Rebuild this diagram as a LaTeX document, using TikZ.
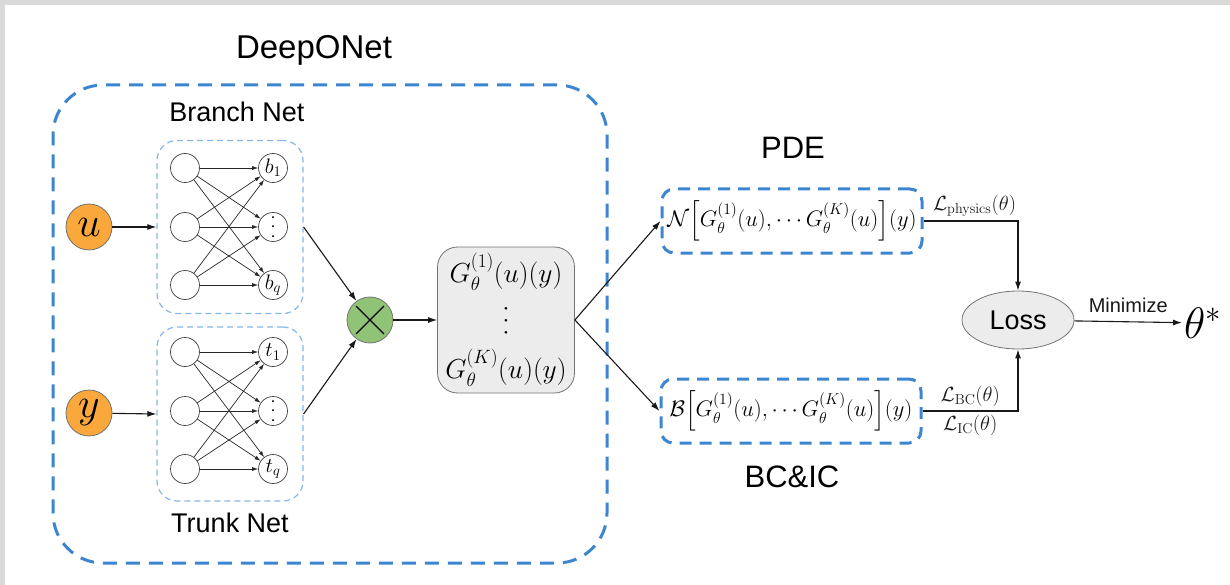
\RequirePackage{fix-cm}
\documentclass[tikz,border=0pt]{standalone}
\usepackage{amsmath, amssymb}
\usepackage[no-math]{fontspec}
\setmainfont{Liberation Sans}
\usetikzlibrary{arrows.meta, positioning, calc, shapes.geometric}

\definecolor{dnblue}{RGB}{61,133,209}
\definecolor{dnlight}{RGB}{133,183,232}
\definecolor{dnorange}{RGB}{250,168,60}
\definecolor{dngreen}{RGB}{143,196,119}
\definecolor{dnfill}{RGB}{236,236,236}
\definecolor{dnframe}{RGB}{217,217,217}

% 縦の点 (フォントに合わせて拡大)
\newcommand{\vdotsnet}{\rotatebox{90}{$\ldots$}}

\tikzset{
  neuron/.style={circle, draw=black!75, line width=0.7pt, minimum size=29pt, inner sep=0pt, font=\fontsize{21}{21}\selectfont},
  inp/.style={circle, draw=black!55, fill=dnorange, line width=0.8pt, minimum size=46pt, inner sep=0pt, font=\fontsize{42}{42}\selectfont},
  netbox/.style={draw=dnlight, line width=1.2pt, dash pattern=on 6pt off 4pt, rounded corners=20pt, minimum width=146pt},
  bigbox/.style={draw=dnblue, line width=3pt, dash pattern=on 14pt off 9pt, rounded corners=50pt},
  eqbox/.style={draw=dnblue, line width=3pt, dash pattern=on 12pt off 8pt, rounded corners=12pt, minimum width=260pt, minimum height=64pt, inner sep=0pt, font=\fontsize{22.5}{22.5}\selectfont},
  title/.style={font=\fontsize{31}{31}\selectfont},
  sub/.style={font=\fontsize{27}{27}\selectfont},
  edge/.style={-{Latex[length=6pt,width=4pt]}, line width=0.7pt, black!85},
  conn/.style={-{Latex[length=9pt,width=6pt]}, line width=1.1pt, black!90},
  loss/.style={font=\fontsize{20.5}{20.5}\selectfont, inner sep=4pt}
}

\begin{document}
\begin{tikzpicture}[x=1pt, y=-1pt]
\useasboundingbox (0,0) rectangle (1230,585);
% 枠
\fill[dnframe] (0,0) rectangle (1230,5);
\fill[dnframe] (0,0) rectangle (5,585);

% DeepONet
\node[bigbox, minimum width=554pt, minimum height=478pt] (deeponet) at (330,324) {};
\node[title, font=\fontsize{33}{33}\selectfont] (dlabel) at (314,50) {DeepONet};

% branch / trunk
\node[netbox, minimum height=173pt] (branch) at (230,227) {};
\node[netbox, minimum height=174pt] (trunk) at (230,414) {};
\node[sub] (blabel) at (237,112) {Branch Net};
\node[sub] (tlabel) at (230,523) {Trunk Net};

\foreach \net/\yc/\lab in {b/227/b, t/411/t} {
  \foreach \i/\dy in {1/-59, 2/0, 3/58} {
    \node[neuron] (\net l\i) at (185,\yc+\dy) {};
  }
  \node[neuron] (\net r1) at (273,\yc-59) {$\lab_1$};
  \node[neuron] (\net r2) at (273,\yc) {\vdotsnet};
  \node[neuron] (\net r3) at (273,\yc+58) {$\lab_q$};
  \foreach \i in {1,2,3}
    \foreach \j in {1,2,3}
      \draw[edge] (\net l\i) -- (\net r\j);
}

% 入力
\node[inp] (u) at (89,227) {$u$};
\node[inp] (y) at (89,413) {$y$};
\draw[conn] (u) -- (branch.west);
\draw[conn] (y) -- (trunk.west);

% 積
\node[circle, draw=black!55, line width=0.8pt, fill=dngreen, minimum size=46pt] (mul) at (370,320) {};
\draw[line width=1.2pt] ($(mul)+(-14,-14)$) -- ($(mul)+(14,14)$);
\draw[line width=1.2pt] ($(mul)+(-14,14)$) -- ($(mul)+(14,-14)$);
\draw[conn] (branch.east) -- (mul);
\draw[conn] (trunk.east) -- (mul);

% 出力
\node[draw=black!55, line width=0.8pt, fill=dnfill, rounded corners=20pt, minimum width=137pt, minimum height=146pt,
      align=center, font=\fontsize{27.5}{48}\selectfont] (G) at (506,320)
  {$G^{(1)}_\theta(u)(y)$\\\raisebox{-6pt}{\vdotsnet}\\$G^{(K)}_\theta(u)(y)$};
\draw[conn] (mul) -- (G);

% PDE, BC&IC
\node[eqbox] (pde) at (792,221) {$\mathcal{N}\Big[G^{(1)}_\theta(u),\cdots G^{(K)}_\theta(u)\Big](y)$};
\node[eqbox] (bc) at (791,411) {$\mathcal{B}\Big[G^{(1)}_\theta(u),\cdots G^{(K)}_\theta(u)\Big](y)$};
\node[title] (plabel) at (793,148) {PDE};
\node[title] (bclabel) at (792,477) {BC\&IC};
\draw[conn] (G.east) -- (pde.west);
\draw[conn] (G.east) -- (bc.west);

% 損失
\node[ellipse, draw=black!55, line width=0.8pt, fill=dnfill, minimum width=112pt, minimum height=58pt, inner sep=0pt,
      font=\fontsize{27}{27}\selectfont] (lossnode) at (1018,320) {Loss};
\draw[conn] (pde.east) -| (lossnode.north) node[loss, pos=0.27, above] {$\mathcal{L}_{\mathrm{physics}}(\theta)$};
\draw[conn] (bc.east) -| (lossnode.south)
  node[loss, pos=0.25, above] {$\mathcal{L}_{\mathrm{BC}}(\theta)$}
  node[loss, pos=0.25, below] {$\mathcal{L}_{\mathrm{IC}}(\theta)$};
\node[font=\fontsize{44}{44}\selectfont, inner sep=2pt, anchor=west] (opt) at (1182,323) {$\theta^*$};
\draw[conn] (lossnode) -- (opt) node[midway, above, inner sep=9pt, font=\fontsize{20}{20}\selectfont] {Minimize};
\end{tikzpicture}
\end{document}
